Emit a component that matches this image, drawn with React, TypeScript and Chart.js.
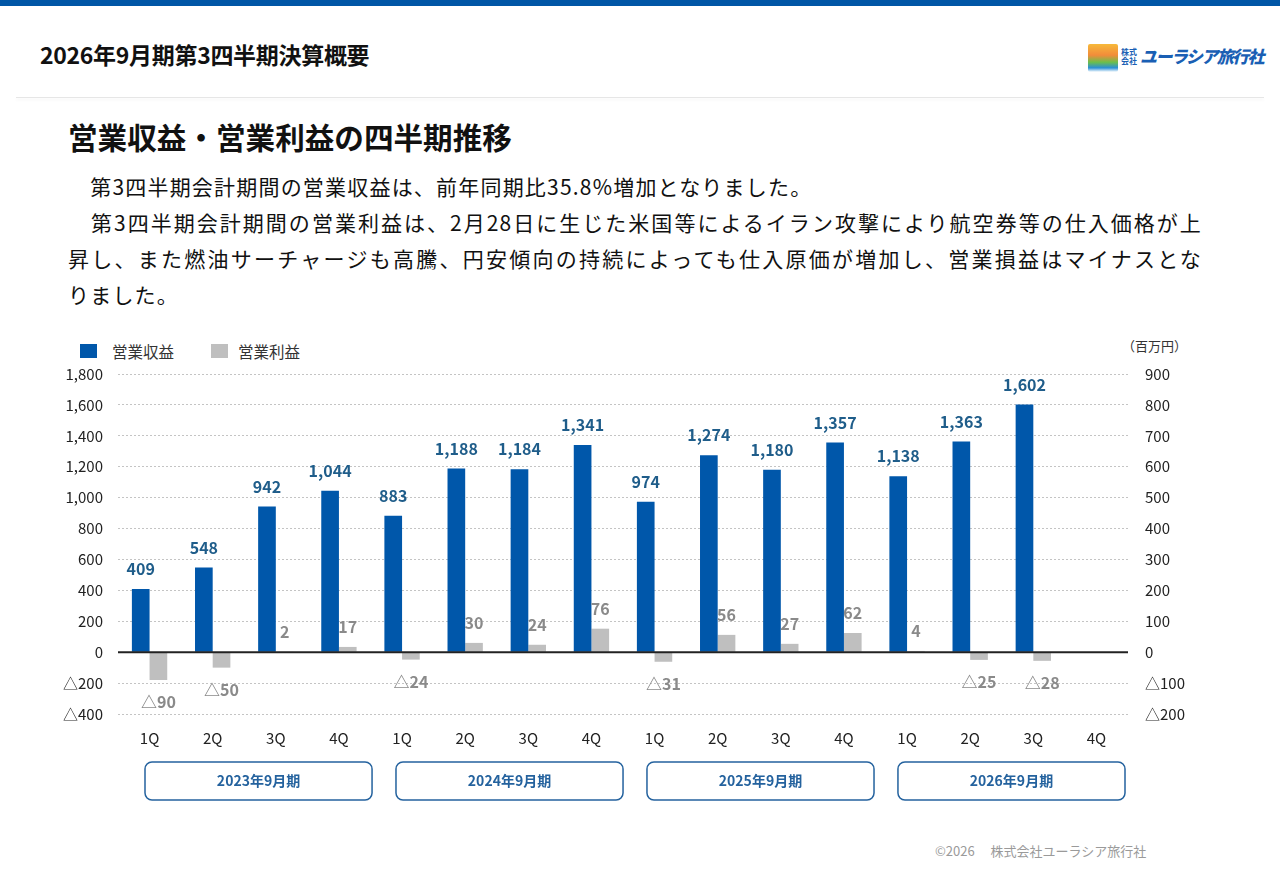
import React, { useEffect, useRef } from "react";
import { Chart, registerables } from "chart.js";

Chart.register(...registerables);

// ---- data ----
const quarterLabels = [
  "1Q", "2Q", "3Q", "4Q",
  "1Q", "2Q", "3Q", "4Q",
  "1Q", "2Q", "3Q", "4Q",
  "1Q", "2Q", "3Q", "4Q",
];
const fiscalYears = ["2023年9月期", "2024年9月期", "2025年9月期", "2026年9月期"];
const revenue: (number | null)[] = [409, 548, 942, 1044, 883, 1188, 1184, 1341, 974, 1274, 1180, 1357, 1138, 1363, 1602, null];
const operatingProfit: (number | null)[] = [-90, -50, 2, 17, -24, 30, 24, 76, -31, 56, 27, 62, 4, -25, -28, null];
const seriesNames = ["営業収益", "営業利益"];
const unitLabel = "（百万円）";

const FONT = '"Noto Sans CJK JP", "Noto Sans", sans-serif';
const BLUE = "#0057aa";
const GRAY = "#bfbfbf";
const BLUE_LABEL = "#1f5d8a";
const GRAY_LABEL = "#8a8a8a";
const BOX_BLUE = "#24629e";

const fmt = (v: number) => (v < 0 ? "△" + Math.abs(v).toLocaleString("en-US") : v.toLocaleString("en-US"));

const overlayPlugin = {
  id: "overlay",
  afterDatasetsDraw(chart: any) {
    const ctx = chart.ctx;
    const area = chart.chartArea;
    const y0 = chart.scales.y.getPixelForValue(0);
    ctx.save();
    ctx.strokeStyle = "#222";
    ctx.lineWidth = 2;
    ctx.beginPath();
    ctx.moveTo(area.left, y0);
    ctx.lineTo(area.right, y0);
    ctx.stroke();

    ctx.font = `bold 16px ${FONT}`;
    ctx.textAlign = "center";
    ctx.textBaseline = "middle";
    chart.data.datasets.forEach((ds: any, di: number) => {
      const meta = chart.getDatasetMeta(di);
      meta.data.forEach((bar: any, i: number) => {
        const v = ds.data[i];
        if (v == null) return;
        const p = bar.getProps(["x", "y"], true);
        ctx.fillStyle = di === 0 ? BLUE_LABEL : GRAY_LABEL;
        if (v >= 0) ctx.fillText(fmt(v), p.x, p.y - 20);
        else ctx.fillText(fmt(v), p.x, p.y + 22);
      });
    });
    ctx.restore();
  },
  afterDraw(chart: any) {
    const ctx = chart.ctx;
    const area = chart.chartArea;
    const groupStep = area.width * 0.2485;
    const boxW = area.width * 0.2248;
    const top = area.bottom + 48;
    const h = 38;
    ctx.save();
    fiscalYears.forEach((fy, g) => {
      const left = area.left + 27 + g * groupStep;
      ctx.beginPath();
      ctx.roundRect(left, top, boxW, h, 7);
      ctx.strokeStyle = BOX_BLUE;
      ctx.lineWidth = 1.5;
      ctx.stroke();
      ctx.fillStyle = BOX_BLUE;
      ctx.font = `bold 14px ${FONT}`;
      ctx.textAlign = "center";
      ctx.textBaseline = "middle";
      ctx.fillText(fy, left + boxW / 2, top + h / 2);
    });
    ctx.restore();
  },
};

function BarChart() {
  const ref = useRef<HTMLCanvasElement | null>(null);
  useEffect(() => {
    if (!ref.current) return;
    Chart.defaults.font.family = FONT;
    const chart = new Chart(ref.current, {
      type: "bar",
      data: {
        labels: quarterLabels,
        datasets: [
          {
            label: seriesNames[0],
            data: revenue,
            backgroundColor: BLUE,
            yAxisID: "y",
            categoryPercentage: 0.56,
            barPercentage: 1.0,
          },
          {
            label: seriesNames[1],
            data: operatingProfit,
            backgroundColor: GRAY,
            yAxisID: "y1",
            categoryPercentage: 0.56,
            barPercentage: 1.0,
          },
        ],
      },
      options: {
        animation: false,
        responsive: true,
        maintainAspectRatio: false,
        layout: { padding: { top: 44, left: 0, right: 0, bottom: 0 } },
        plugins: { legend: { display: false }, tooltip: { enabled: false } },
        scales: {
          x: {
            grid: { display: false },
            border: { display: false },
            ticks: { color: "#222", font: { size: 15, family: FONT }, padding: 7, maxRotation: 0, autoSkip: false },
            afterFit: (s: any) => { s.height = 106; },
          },
          y: {
            position: "left",
            min: -400,
            max: 1800,
            grid: { color: "#c4c4c4", lineWidth: 1, drawTicks: false },
            border: { display: false, dash: [2, 2] },
            ticks: {
              stepSize: 200,
              color: "#222",
              font: { size: 15, family: FONT },
              padding: 15,
              callback: (v: any) => fmt(Number(v)),
            },
            afterFit: (s: any) => { s.width = 118; },
          },
          y1: {
            position: "right",
            min: -200,
            max: 900,
            grid: { drawOnChartArea: false, drawTicks: false },
            border: { display: false },
            ticks: {
              stepSize: 100,
              color: "#222",
              font: { size: 15, family: FONT },
              padding: 17,
              callback: (v: any) => fmt(Number(v)),
            },
            afterFit: (s: any) => { s.width = 152; },
          },
        },
      },
      plugins: [overlayPlugin],
    });
    return () => chart.destroy();
  }, []);
  return <canvas ref={ref} />;
}

export default function App() {
  const abs = (o: React.CSSProperties): React.CSSProperties => ({ position: "absolute", ...o });
  const lineStyle: React.CSSProperties = { height: 36, lineHeight: "36px", whiteSpace: "nowrap" };
  const justified: React.CSSProperties = { ...lineStyle, textAlign: "justify", textAlignLast: "justify" as any, width: 1134 };
  return (
    <div style={{ position: "absolute", left: 0, top: 0, width: 1280, height: 886, background: "#fff", fontFamily: FONT, color: "#111", overflow: "hidden" }}>
      <div style={abs({ left: 0, top: 0, width: 1280, height: 6, background: "#0056a6" })} />
      <div style={abs({ left: 40, top: 42, fontSize: 23, lineHeight: "24px", fontWeight: 700, color: "#111", letterSpacing: -0.3 })}>
        2026年9月期第3四半期決算概要
      </div>
      {/* logo */}
      <div style={abs({ left: 1088, top: 44, width: 30, height: 28, background: "linear-gradient(180deg,#f7b93a 0%,#f28c3a 40%,#6cbf4a 65%,#2a8fd6 85%,#ffffff 100%)", borderRadius: 2 })} />
      <div style={abs({ left: 1121, top: 47, fontSize: 8, lineHeight: "9px", fontWeight: 700, color: "#1a5fb4", width: 18 })}>
        株式<br />会社
      </div>
      <div style={abs({ left: 1140, top: 45, fontSize: 17, lineHeight: "22px", fontWeight: 900, fontStyle: "italic", color: "#1a5fb4", letterSpacing: -1.6, whiteSpace: "nowrap" })}>
        ユーラシア旅行社
      </div>
      <div style={abs({ left: 16, top: 97, width: 1248, height: 1, background: "#e6e6e6", boxShadow: "0 2px 3px rgba(0,0,0,0.06)" })} />

      <div style={abs({ left: 68, top: 121, fontSize: 29.6, lineHeight: "32px", fontWeight: 700, color: "#111", whiteSpace: "nowrap" })}>
        営業収益・営業利益の四半期推移
      </div>

      <div style={abs({ left: 68, top: 168, fontSize: 21, color: "#111", letterSpacing: 1.2 })}>
        <div style={lineStyle}>　第3四半期会計期間の営業収益は、前年同期比35.8%増加となりました。</div>
        <div style={justified}>　第3四半期会計期間の営業利益は、2月28日に生じた米国等によるイラン攻撃により航空券等の仕入価格が上</div>
        <div style={justified}>昇し、また燃油サーチャージも高騰、円安傾向の持続によっても仕入原価が増加し、営業損益はマイナスとな</div>
        <div style={lineStyle}>りました。</div>
      </div>

      {/* legend */}
      <div style={abs({ left: 80, top: 344, width: 17, height: 14, background: BLUE })} />
      <div style={abs({ left: 112, top: 341, fontSize: 15.5, lineHeight: "20px", color: "#333", whiteSpace: "nowrap" })}>{seriesNames[0]}</div>
      <div style={abs({ left: 211, top: 344, width: 17, height: 14, background: GRAY })} />
      <div style={abs({ left: 238, top: 341, fontSize: 15.5, lineHeight: "20px", color: "#333", whiteSpace: "nowrap" })}>{seriesNames[1]}</div>
      <div style={abs({ left: 1122, top: 337, fontSize: 13, lineHeight: "18px", color: "#333", whiteSpace: "nowrap" })}>{unitLabel}</div>

      <div style={abs({ left: 0, top: 330, width: 1280, height: 490 })}>
        <BarChart />
      </div>

      <div style={abs({ left: 935, top: 843, fontSize: 13, lineHeight: "16px", color: "#9a9a9a", whiteSpace: "pre" })}>
        {"©2026　 株式会社ユーラシア旅行社"}
      </div>
    </div>
  );
}
